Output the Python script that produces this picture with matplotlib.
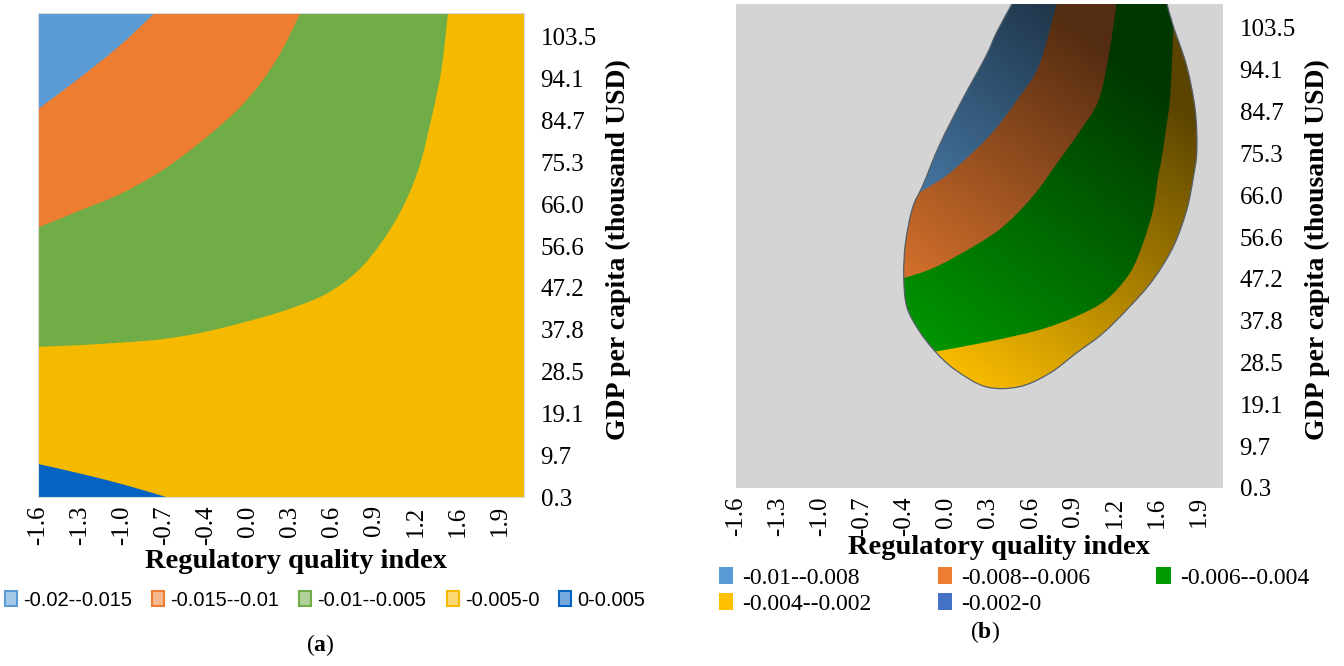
import numpy as np
import matplotlib
matplotlib.use('Agg')
import matplotlib.pyplot as plt
from matplotlib import font_manager
from matplotlib.patches import PathPatch, Patch
from matplotlib.path import Path

SERIF = 'Liberation Serif'
plt.rcParams['font.family'] = SERIF
plt.rcParams['mathtext.fontset'] = 'custom'
plt.rcParams['mathtext.rm'] = SERIF
plt.rcParams['mathtext.bf'] = SERIF + ':bold'

# axis categories (both panels)
x_labels = ['-1.6', '-1.3', '-1.0', '-0.7', '-0.4', '0.0', '0.3', '0.6', '0.9', '1.2', '1.6', '1.9']
y_labels = ['0.3', '9.7', '19.1', '28.5', '37.8', '47.2', '56.6', '66.0', '75.3', '84.7', '94.1', '103.5']
x_end = 11.57   # surface runs a bit past the last category
y_end = 11.57

# panel (a): contour lines, in category index units
a_lvl_015_x = [0.0, 0.9, 1.9, 2.78]
a_lvl_015_y = [9.27, 9.95, 10.75, 11.57]
a_lvl_010_x = [0.0, 0.98, 1.95, 2.93, 3.90, 4.88, 5.66, 6.25]
a_lvl_010_y = [6.44, 6.84, 7.24, 7.79, 8.51, 9.39, 10.42, 11.57]
a_lvl_005_x = [0.0, 0.98, 1.95, 2.93, 3.90, 4.88, 5.85, 6.83, 7.61, 8.20, 8.68, 9.07, 9.37, 9.61, 9.76]
a_lvl_005_y = [3.59, 3.63, 3.69, 3.77, 3.93, 4.17, 4.45, 4.84, 5.40, 6.12, 6.92, 7.87, 9.07, 10.26, 11.57]
a_lvl_000_x = [0.0, 1.05, 2.1, 3.05]
a_lvl_000_y = [0.79, 0.55, 0.28, 0.0]
a_labels = ['-0.02--0.015', '-0.015--0.01', '-0.01--0.005', '-0.005-0', '0-0.005']
a_colors = ['#5B9BD5', '#ED7D31', '#70AD47', '#F5BA00', '#0563C1']

# panel (b): outline of the surface and its contour lines
b_edge_x = [6.56, 6.2, 5.94, 5.38, 4.84, 4.45, 4.2, 4.03, 3.99, 4.06, 4.34, 4.74, 5.22, 5.94,
            6.73, 7.45, 8.08, 8.72, 9.36, 9.91, 10.39, 10.71, 10.87, 10.95, 10.91, 10.71,
            10.39, 10.24]
b_edge_y = [11.57, 10.9, 10.32, 9.28, 8.2, 7.25, 6.7, 5.85, 5.06, 4.34, 3.78, 3.26, 2.82, 2.42,
            2.42, 2.74, 3.22, 3.70, 4.34, 4.98, 5.77, 6.65, 7.45, 8.09, 9.04, 10.08,
            11.04, 11.57]
b_lvl_008_x = [4.34, 4.98, 5.5, 6.1, 6.7, 7.2, 7.62]
b_lvl_008_y = [7.05, 7.45, 7.9, 8.5, 9.3, 10.1, 11.57]
b_lvl_006_x = [4.0, 4.6, 5.22, 6.25, 7.05, 7.69, 8.15, 8.62, 8.88, 9.04]
b_lvl_006_y = [5.02, 5.22, 5.53, 6.17, 6.97, 7.85, 8.5, 9.28, 10.48, 11.57]
b_lvl_004_x = [4.74, 6.01, 7.21, 8.08, 8.80, 9.36, 9.67, 9.91, 10.03, 10.11, 10.22, 10.31, 10.37, 10.39]
b_lvl_004_y = [3.26, 3.50, 3.78, 4.10, 4.50, 5.14, 5.85, 6.65, 7.45, 7.85, 8.6, 9.28, 10.48, 11.04]
b_labels = ['-0.01--0.008', '-0.008--0.006', '-0.006--0.004', '-0.004--0.002', '-0.002-0']
b_colors = ['#5B9BD5', '#ED7D31', '#009A00', '#FFC000', '#4472C4']


def smooth_path(xs, ys, tail=(), closed=False):
    # smooth curve through the read points, optionally closed with straight segments
    pts = np.c_[xs, ys]
    n = len(pts)
    verts = [pts[0]]
    codes = [Path.MOVETO]
    for k in range(n - 1):
        p0, p1 = pts[max(k - 1, 0)], pts[k]
        p2, p3 = pts[k + 1], pts[min(k + 2, n - 1)]
        verts += [p1 + (p2 - p0) / 6, p2 - (p3 - p1) / 6, p2]
        codes += [Path.CURVE4] * 3
    for t in tail:
        verts.append(t)
        codes.append(Path.LINETO)
    if closed or tail:
        verts.append(pts[0])
        codes.append(Path.CLOSEPOLY)
    return Path(verts, codes)


def band(ax, xs, ys, corner_x, corner_y, color, clip=None):
    # region between a contour line and a corner lying outside the plot
    tail = [(xs[-1], corner_y), (corner_x, corner_y), (corner_x, ys[0])]
    patch = PathPatch(smooth_path(xs, ys, tail), facecolor=color, edgecolor='none', lw=0)
    ax.add_patch(patch)
    if clip is not None:
        patch.set_clip_path(clip)
    return patch


def style_axes(ax):
    ax.set_xlim(0, x_end)
    ax.set_ylim(0, y_end)
    ax.set_xticks(range(len(x_labels)))
    ax.set_xticklabels(x_labels, rotation=90, fontsize=18)
    ax.yaxis.tick_right()
    ax.set_yticks(range(len(y_labels)))
    ax.set_yticklabels(y_labels, fontsize=18)
    ax.tick_params(axis='x', length=0, pad=6)
    ax.tick_params(axis='y', length=0, pad=12)
    for s in ax.spines.values():
        s.set_color('#d9d9d9')
        s.set_linewidth(0.8)


fig = plt.figure(figsize=(13.44, 6.66), dpi=100)

# ---------------- panel (a)
ax_a = fig.add_axes([38 / 1344, 1 - 497 / 666, 486 / 1344, 484 / 666])
ax_a.fill_between([0, x_end], 0, y_end, color=a_colors[3], lw=0)
band(ax_a, a_lvl_005_x, a_lvl_005_y, -1, y_end + 1, a_colors[2])
band(ax_a, a_lvl_010_x, a_lvl_010_y, -1, y_end + 1, a_colors[1])
band(ax_a, a_lvl_015_x, a_lvl_015_y, -1, y_end + 1, a_colors[0])
band(ax_a, a_lvl_000_x, a_lvl_000_y, -1, -1, a_colors[4])
style_axes(ax_a)

# ---------------- panel (b)
ax_b = fig.add_axes([735.7 / 1344, 1 - 488 / 666, 487.3 / 1344, 484 / 666])
ax_b.set_facecolor('#d4d4d4')
blob = PathPatch(smooth_path(b_edge_x, b_edge_y, closed=True), facecolor=b_colors[3],
                 edgecolor='none')
ax_b.add_patch(blob)
band(ax_b, b_lvl_004_x, b_lvl_004_y, -1, y_end + 1, b_colors[2], clip=blob)
band(ax_b, b_lvl_006_x, b_lvl_006_y, -1, y_end + 1, b_colors[1], clip=blob)
band(ax_b, b_lvl_008_x, b_lvl_008_y, -1, y_end + 1, b_colors[0], clip=blob)

# lighting of the 3d surface: darker towards the upper right
gx, gy = np.meshgrid(np.linspace(0, x_end, 300), np.linspace(0, y_end, 300))
shade = np.zeros(gx.shape + (4,))
shade[..., 3] = np.clip(0.06 * (gy - 2.5) + 0.045 * (gx - 5.0), 0, 0.65)
im = ax_b.imshow(shade, extent=(0, x_end, 0, y_end), origin='lower', aspect='auto', zorder=3)
im.set_clip_path(blob)
ax_b.add_patch(PathPatch(smooth_path(b_edge_x, b_edge_y), facecolor='none',
                         edgecolor='#55606a', lw=0.9, zorder=4))
style_axes(ax_b)
for s in ax_b.spines.values():
    s.set_visible(False)

# ---------------- labels
for x, y in [(296, 562), (999, 548)]:
    fig.text(x / 1344, 1 - y / 666, 'Regulatory quality index', ha='center', va='center',
             fontsize=20.5, fontweight='bold')
for x in [618, 1317]:
    fig.text(x / 1344, 1 - 250 / 666, 'GDP per capita (thousand USD)', ha='center', va='center',
             rotation=90, fontsize=20, fontweight='bold')

fig.text(320 / 1344, 1 - 645 / 666, r'($\mathbf{a}$)', ha='center', va='center', fontsize=17)
fig.text(985 / 1344, 1 - 632 / 666, r'($\mathbf{b}$)', ha='center', va='center', fontsize=17)

# ---------------- legends
names = {f.name for f in font_manager.fontManager.ttflist}
if 'Liberation Sans Narrow' in names:
    leg_font = {'family': 'Liberation Sans Narrow', 'size': 17}
else:
    leg_font = {'family': 'Liberation Sans', 'size': 14.5}


def lighten(c, amt=0.45):
    r, g, b = matplotlib.colors.to_rgb(c)
    return (r + (1 - r) * amt, g + (1 - g) * amt, b + (1 - b) * amt)


h_a = [Patch(facecolor=lighten(c), edgecolor=c, linewidth=1.5) for c in a_colors]
fig.legend(h_a, a_labels, loc='center', bbox_to_anchor=(325 / 1344, 1 - 600 / 666), ncol=5,
           frameon=False, prop=leg_font, handlelength=0.6, handleheight=0.7,
           handletextpad=0.3, columnspacing=1.0, borderaxespad=0, borderpad=0)

h_b = [Patch(facecolor=c, edgecolor='none') for c in b_colors]
order = [0, 3, 1, 4, 2]
fig.legend([h_b[k] for k in order], [b_labels[k] for k in order], loc='center',
           bbox_to_anchor=(1014 / 1344, 1 - 591 / 666), ncol=3, frameon=False,
           prop={'family': SERIF, 'size': 17}, handlelength=0.6, handleheight=0.7,
           handletextpad=0.4, columnspacing=2.8, labelspacing=0.2, borderaxespad=0, borderpad=0)

fig.savefig('out.png', dpi=100)
